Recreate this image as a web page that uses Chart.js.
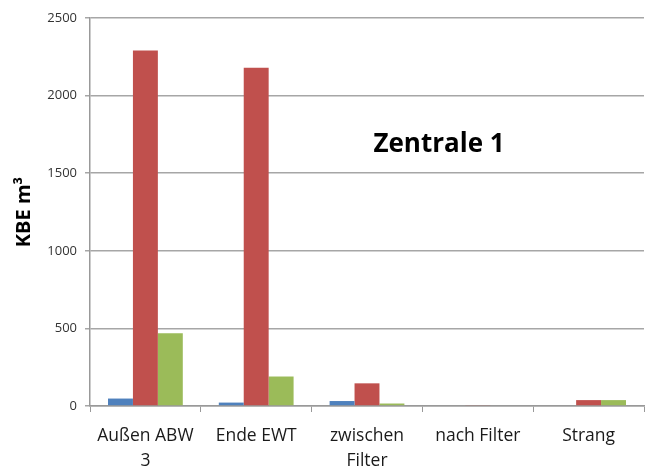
<!DOCTYPE html>
<html>
<head>
<meta charset="utf-8">
<script src="https://cdn.jsdelivr.net/npm/chart.js@4/dist/chart.umd.min.js"></script>
<style>
  html, body { margin: 0; padding: 0; background: #ffffff; }
  #wrap { width: 645px; height: 471px; position: relative; }
</style>
</head>
<body>
<div id="wrap"><canvas id="chart"></canvas></div>
<script>
// data
const categories = [["Außen ABW", "3"], "Ende EWT", ["zwischen", "Filter"], "nach Filter", "Strang"];
const blue_values = [48, 22, 32, 0, 0];
const red_values = [2290, 2180, 146, 4, 38];
const green_values = [468, 190, 16, 0, 38];
const y_ticks = [0, 500, 1000, 1500, 2000, 2500];
const chart_title = "Zentrale 1";
const y_title = "KBE m³";

// title drawn inside the plot area, like the original
const insideTitle = {
    id: 'insideTitle',
    afterDraw(chart) {
        const ctx = chart.ctx;
        const area = chart.chartArea;
        ctx.save();
        ctx.font = 'bold 26px "Open Sans", sans-serif';
        ctx.fillStyle = '#000000';
        ctx.textAlign = 'center';
        ctx.textBaseline = 'middle';
        ctx.fillText(chart_title, area.left + (area.right - area.left) * 0.63, area.top + (area.bottom - area.top) * 0.325);
        ctx.restore();
    }
};

new Chart('chart', {
    type: 'bar',
    data: {
        labels: categories,
        datasets: [
            { label: 'a', data: blue_values, backgroundColor: '#4F81BD' },
            { label: 'b', data: red_values, backgroundColor: '#C0504D' },
            { label: 'c', data: green_values, backgroundColor: '#9BBB59' }
        ]
    },
    options: {
        responsive: true,
        maintainAspectRatio: false,
        animation: false,
        datasets: { bar: { categoryPercentage: 0.675, barPercentage: 1.0 } },
        layout: { padding: { top: 18, right: 1, left: 0, bottom: 0 } },
        plugins: {
            legend: { display: false },
            tooltip: { enabled: false }
        },
        scales: {
            x: {
                grid: { display: true, drawOnChartArea: false, color: '#999999', tickLength: 6, offset: true },
                border: { color: '#999999', width: 1.5 },
                ticks: {
                    color: '#1a1a1a',
                    font: { family: '"Open Sans", sans-serif', size: 17.5, lineHeight: 1.4 },
                    maxRotation: 0,
                    padding: 12
                },
                afterFit(scale) { scale.height = 65; }
            },
            y: {
                min: 0,
                max: 2500,
                afterBuildTicks(scale) { scale.ticks = y_ticks.map(v => ({ value: v })); },
                grid: { color: '#a6a6a6', lineWidth: 1.5, tickLength: 5 },
                border: { color: '#999999', width: 1.5 },
                ticks: {
                    color: '#333333',
                    font: { family: '"Open Sans", sans-serif', size: 13 },
                    padding: 8,
                    callback: v => String(v)
                },
                title: {
                    display: true,
                    text: y_title,
                    color: '#000000',
                    font: { family: '"Open Sans", sans-serif', size: 20, weight: 'bold' },
                    padding: { top: 12, bottom: 0 }
                },
                afterFit(scale) { scale.width = 90; }
            }
        }
    },
    plugins: [insideTitle]
});
</script>
</body>
</html>
